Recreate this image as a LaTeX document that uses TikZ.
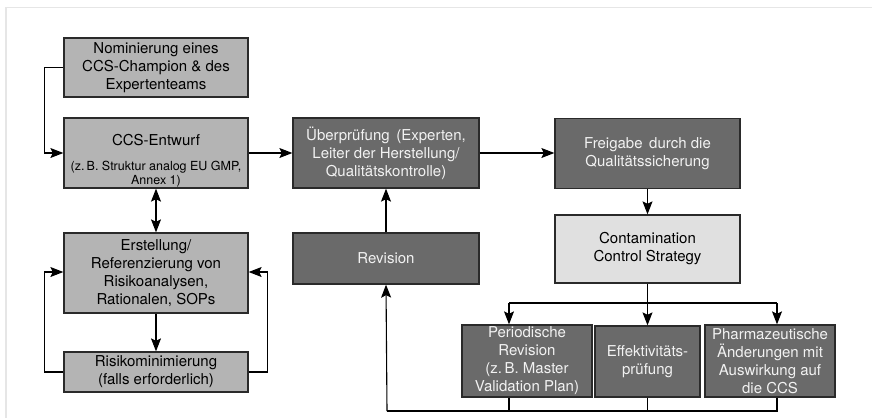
\documentclass[tikz,border=0pt]{standalone}
\usepackage{fontspec}
\setmainfont{TeX Gyre Heros}
\usetikzlibrary{arrows.meta,calc}
\definecolor{lightbox}{HTML}{B4B4B4}
\definecolor{darkbox}{HTML}{6A6A6A}
\definecolor{ccsbox}{HTML}{E0E0E0}
\definecolor{framegray}{HTML}{E6E6E6}
\definecolor{boxborder}{HTML}{2A2A2A}
\definecolor{darktext}{HTML}{F2F2F2}
\newcommand{\smalltxt}{\fontsize{12.5}{14}\selectfont}
\begin{document}
\begin{tikzpicture}[x=1pt,y=-1pt,
  font=\fontsize{15}{18}\selectfont,
  box/.style={draw=boxborder,line width=1.3pt,align=center,inner sep=0pt,anchor=center},
  lbox/.style={box,fill=lightbox,text=black},
  dbox/.style={box,fill=darkbox,text=darktext},
  cbox/.style={box,fill=ccsbox,text=black},
  line/.style={anchor=base,inner sep=0pt},
  arr/.style={draw=black,line width=1.1pt,-{Stealth[length=13pt,width=10pt,inset=2.5pt]}},
  dblarr/.style={draw=black,line width=1.1pt,{Stealth[length=13pt,width=10pt,inset=2.5pt]}-{Stealth[length=13pt,width=10pt,inset=2.5pt]}},
  ln/.style={draw=black,line width=1.1pt}]
\useasboundingbox (0,0) rectangle (872,418);
\fill[white] (0,0) rectangle (872,418);
\draw[framegray,line width=1.5pt] (6,418) -- (6,7.5) -- (872,7.5);

\node[lbox,minimum width=184,minimum height=59] (nom) at (156,67.5) {Nominierung eines\\CCS-Champion \& des\\Expertenteams};
\node[lbox,minimum width=184,minimum height=70] (ent) at (156,153) {};
\node[line] (ent1) at (156,145.5) {CCS-Entwurf};
\node[line,font=\smalltxt] (ent2) at (156,170.5) {(z.\,B. Struktur analog EU GMP,};
\node[line,font=\smalltxt] (ent3) at (156,184.5) {Annex 1)};
\node[lbox,minimum width=184,minimum height=80] (erst) at (156,273) {Erstellung/\\Referenzierung von\\Risikoanalysen,\\Rationalen, SOPs};
\node[lbox,minimum width=184,minimum height=40] (risk) at (156,372) {Risikominimierung\\(falls erforderlich)};

\node[dbox,minimum width=186,minimum height=70] (ueb) at (386,153) {Überprüfung\ \,(Experten,\\Leiter der Herstellung/\\Qualitätskontrolle)};
\node[dbox,minimum width=186,minimum height=51] (rev) at (386,258.5) {Revision};

\node[dbox,minimum width=185,minimum height=70] (frei) at (647.5,153.5) {Freigabe\ \,durch die\\Qualitätssicherung};
\node[cbox,minimum width=185,minimum height=68] (ccs) at (647.5,249) {Contamination\\Control Strategy};

\node[dbox,minimum width=130,minimum height=72] (per) at (527,361) {Periodische\\Revision\\(z.\,B. Master\\Validation Plan)};
\node[dbox,minimum width=105,minimum height=71] (eff) at (647.5,361.5) {Effektivitäts-\\prüfung};
\node[dbox,minimum width=130,minimum height=72] (pha) at (770,361) {Pharmazeutische\\Änderungen mit\\Auswirkung auf\\die CCS};

% left column
\draw[arr] (nom.west) -- ++(-19,0) |- (ent.west);
\draw[dblarr] (ent.south) -- (erst.north);
\draw[arr] (erst.south) -- (risk.north);
\draw[arr] (risk.west) -- ++(-19,0) |- ([yshift=1pt]erst.west);
\draw[arr] (risk.east) -- ++(19,0) |- ([yshift=1pt]erst.east);

% main flow
\draw[arr] (ent.east) -- (ueb.west);
\draw[arr] (ueb.east) -- (frei.west |- ueb.east);
\draw[arr] (rev.north) -- (ueb.south);
\draw[arr] (frei.south) -- (ccs.north);

% branching
\coordinate (pn) at (509,303);
\coordinate (phn) at (777,303);
\draw[arr] (ccs.south -| eff.north) -- (eff.north);
\draw[ln] (pn) -- (phn);
\draw[arr] (pn) -- (pn |- per.north);
\draw[arr] (phn) -- (phn |- pha.north);

% return loop
\coordinate (bl) at (387,411);
\draw[ln] (pn |- per.south) -- (pn |- bl);
\draw[ln] (eff.south) -- (eff.south |- bl);
\draw[ln] (phn |- pha.south) -- (phn |- bl) -- (bl);
\draw[arr] (bl) -- (rev.south);
\end{tikzpicture}
\end{document}
